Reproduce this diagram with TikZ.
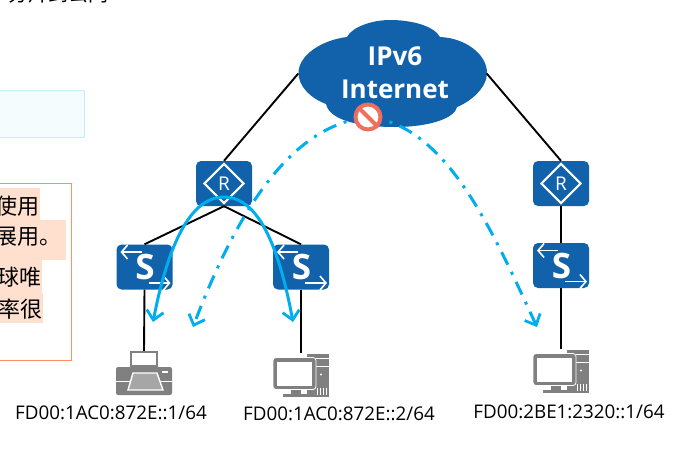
\documentclass[tikz,border=0pt]{standalone}
\usepackage{fontspec}
\setmainfont{Open Sans}
\newfontfamily\cjk{Noto Sans CJK SC}
\usetikzlibrary{arrows.meta,positioning,shapes.geometric}

\definecolor{huablue}{HTML}{1262AB}
\definecolor{linkblue}{HTML}{00AEEF}
\definecolor{icongray}{HTML}{808080}
\definecolor{stopred}{HTML}{EE6F60}
\definecolor{notefill}{HTML}{FFE0CF}

\tikzset{
  netbox/.style = {
    fill = huablue,
    rounded corners = 5pt,
    inner sep = 0pt,
    minimum width = 56pt,
    minimum height = 45pt
  },
  hostbox/.style = {
    inner sep = 0pt,
    minimum width = 56pt,
    minimum height = 44pt
  },
  wire/.style = {
    black,
    line width = 1.9pt
  },
  flow/.style = {
    linkblue,
    line width = 3pt,
    -{Straight Barb[length=9pt,width=17pt,line width=2.8pt]}
  },
  flowdot/.style = {
    flow,
    dash pattern = on 14pt off 8pt on 3pt off 8pt
  },
  addr/.style = {
    font = \fontsize{18.8pt}{20pt}\selectfont,
    inner sep = 0pt
  },
  note/.style = {
    font = \cjk\fontsize{22pt}{24pt}\selectfont,
    anchor = east,
    inner sep = 0pt
  },
  whitearrow/.style = {
    white,
    line width = 1.7pt,
    -{Straight Barb[length=6pt,width=14pt,line width=1.6pt]}
  },
  router/.pic = {
    \node[draw = white, line width = 2.1pt, diamond, inner sep = 0pt,
      minimum width = 40pt, minimum height = 40pt] (-d) at (0,0) {};
    \node[white, font = \fontsize{19pt}{19pt}\selectfont] (-r) at (0,0) {R};
  },
  switch/.pic = {
    \node[white, font = \bfseries\fontsize{35pt}{35pt}\selectfont] (-s) at (0.5,0) {S};
    \draw[whitearrow] (-3,-15) -- (-24,-15);
    \draw[whitearrow] (4,16) -- (26,16);
  },
  printer/.pic = {
    \draw[icongray, fill = white, line width = 1.6pt] (-13,-21) rectangle (13,-7);
    \fill[icongray, rounded corners = 2pt] (-28,-6) rectangle (28,22);
    \fill[white] (-28,7.5) rectangle (28,9);
    \draw[white, fill = icongray!70!white, line width = 1.4pt] (-11,0) -- (13,0) -- (19,17) -- (-16,17) -- cycle;
    \fill[white] (18,-2) rectangle (24,0);
  },
  pc/.pic = {
    \fill[icongray] (6,-22) rectangle (28,21);
    \draw[white, line width = 0.8pt] (15,-17) -- (28,-17) (15,-9) -- (28,-9);
    \fill[white] (20,-1) circle (1.2pt);
    \draw[white, line width = 0.6pt] (16,12) -- (16,19) (19,12) -- (19,19) (22,12) -- (22,19) (25,12) -- (25,19);
    \fill[icongray, draw = white, rounded corners = 3pt, line width = 0.8pt] (-28,-18) rectangle (15,14);
    \fill[white] (-24,-14) rectangle (11,10);
    \fill[icongray] (-10,14) rectangle (0,18);
    \fill[icongray] (-18,18) rectangle (8,21.5);
  }
}

\begin{document}
\begin{tikzpicture}[x=1pt,y=-1pt]
  \useasboundingbox (0,0) rectangle (677,448);
  \clip (0,0) rectangle (677,448);

  % left fragments of the page
  \node[note, anchor = west, font = \cjk\fontsize{20pt}{20pt}\selectfont] (top) at (8,-6) {分片到公网};
  \draw[fill = cyan!4, draw = cyan!22, line width = 1pt] (-5,90) rectangle (84.5,137.5);
  \draw[draw = orange!55!red!60!white, line width = 1pt] (-5,183) rectangle (71.5,360);

  \fill[notefill] (0,188) rectangle (40,220);
  \fill[notefill] (0,220) rectangle (66,260);
  \fill[notefill] (0,260) rectangle (42,293);
  \fill[notefill] (0,293) rectangle (43,323);
  \node[note] (n1) at (39.5,206) {使用};
  \node[note] (n2) at (62,237) {展用。};
  \node[note] (n3) at (42,277) {球唯};
  \node[note] (n4) at (43,309) {率很};

  % the cloud
  \node[inner sep = 0pt, minimum width = 188pt, minimum height = 107pt] (cloud) at (392.5,73.5) {};
  \fill[huablue] (298.5,73)
    .. controls (298.5,55) and (322,40) .. (347,37)
    .. controls (352,27) and (372,20) .. (390,20)
    .. controls (412,20) and (434,26) .. (440,37)
    .. controls (465,38) and (487,54) .. (487,73)
    .. controls (487,88) and (470,102) .. (457,107)
    .. controls (455,118) and (430,127) .. (395,127)
    .. controls (365,127) and (330,122) .. (326,104)
    .. controls (310,98) and (298.5,86) .. (298.5,73) -- cycle;

  \node[netbox] (r1) at (224,183.5) {};
  \node[netbox] (r2) at (561,183.5) {};
  \node[netbox] (s1) at (144.5,267) {};
  \node[netbox] (s2) at (301,267) {};
  \node[netbox] (s3) at (561,265.5) {};
  \node[hostbox] (p1) at (144,373) {};
  \node[hostbox] (h1) at (301,375.5) {};
  \node[hostbox] (h2) at (561,371.5) {};

  \pic at (r1) {router};
  \pic at (r2) {router};
  \pic at (s1) {switch};
  \pic at (s2) {switch};
  \pic at (s3) {switch};
  \pic at (p1) {printer};
  \pic at (h1) {pc};
  \pic at (h2) {pc};

  \draw[wire] (cloud.west) -- (r1.north);
  \draw[wire] (cloud.east) -- (r2.north);
  \draw[wire] (r1.south) -- (s1.north);
  \draw[wire] (r1.south) -- (s2.north);
  \draw[wire] (r2.south) -- (s3.north);
  \draw[wire] (s1.south) -- (p1.north);
  \draw[wire] (s2.south) -- (h1.north);
  \draw[wire] (s3.south) -- (h2.north);

  \node[addr] (a1) at (111,412.5) {FD00:1AC0:872E::1/64};
  \node[addr] (a2) at (339,413.5) {FD00:1AC0:872E::2/64};
  \node[addr] (a3) at (569,411.5) {FD00:2BE1:2320::1/64};

  % the traffic
  \coordinate (blocked) at (368,117);
  \coordinate (pathl) at (153,322);
  \coordinate (pathr) at (293,322);
  \coordinate (pathm) at (193,327);
  \coordinate (pathf) at (537,327);

  \draw[flow, {Straight Barb[length=9pt,width=17pt,line width=2.8pt]}-{Straight Barb[length=9pt,width=17pt,line width=2.8pt]}]
    (pathl) .. controls (172,225) and (198,197) .. (224,197)
    .. controls (250,197) and (275,225) .. (pathr);
  \draw[flowdot] (blocked) .. controls (300,125) and (245,190) .. (pathm);
  \draw[flowdot] (blocked) .. controls (445,125) and (490,225) .. (pathf);

  \node[draw = stopred, fill = white, line width = 4pt, circle, inner sep = 0pt, minimum size = 25pt] (stop) at (blocked) {};
  \draw[stopred, line width = 4pt] (stop.north west) -- (stop.south east);

  \node[white, font = \bfseries\fontsize{26pt}{33pt}\selectfont, align = center, inner sep = 0pt] (cloudtext) at (395,73) {IPv6\\Internet};
\end{tikzpicture}
\end{document}
